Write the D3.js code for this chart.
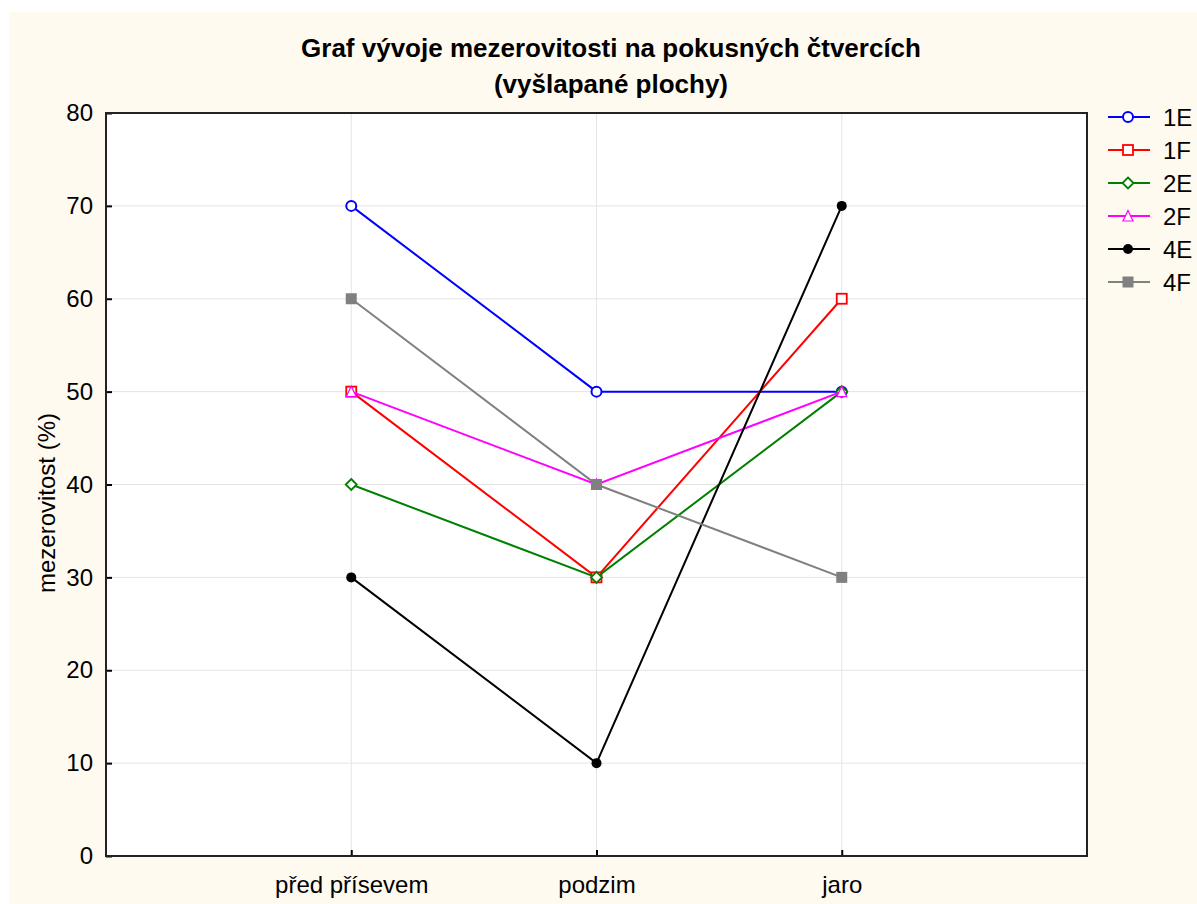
<!DOCTYPE html>
<html><head><meta charset="utf-8">
<script src="https://cdn.jsdelivr.net/npm/d3@7"></script>
<style>html,body{margin:0;padding:0;background:#fff;}svg{display:block;}</style>
</head><body>
<script>
const categories = ["před přísevem", "podzim", "jaro"];
const seriesNames = ["1E", "1F", "2E", "2F", "4E", "4F"];
const v1E = [70, 50, 50];
const v1F = [50, 30, 60];
const v2E = [40, 30, 50];
const v2F = [50, 40, 50];
const v4E = [30, 10, 70];
const v4F = [60, 40, 30];
const yTicks = [0, 10, 20, 30, 40, 50, 60, 70, 80];
const titleLines = ["Graf vývoje mezerovitosti na pokusných čtvercích", "(vyšlapané plochy)"];
const yLabel = "mezerovitost (%)";

const seriesValues = [v1E, v1F, v2E, v2F, v4E, v4F];
const colors = ["#0000ff", "#ff0000", "#008000", "#ff00ff", "#000000", "#808080"];
const shapes = ["circle", "square", "diamond", "triangle", "dot", "fsquare"];

const W = 1197, H = 904;
const L = 106, R = 1087, T = 113, B = 856;
const font = "'Liberation Sans', Arial, sans-serif";

const svg = d3.select("body").append("svg").attr("width", W).attr("height", H);
svg.append("rect").attr("x", 9).attr("y", 12).attr("width", W - 9).attr("height", H - 12).attr("fill", "#fffaf0");
svg.append("rect").attr("x", L).attr("y", T).attr("width", R - L).attr("height", B - T).attr("fill", "#fff");

const x = d3.scalePoint().domain(categories).range([L, R]).padding(1);
const y = d3.scaleLinear().domain([0, 80]).range([B, T]);

// grid
const g = svg.append("g");
g.selectAll(".gy").data(yTicks.filter(t => t > 0 && t < 80)).join("line")
  .attr("x1", L).attr("x2", R).attr("y1", d => y(d)).attr("y2", d => y(d))
  .attr("stroke", "#e4e4e4").attr("stroke-width", 1);
g.selectAll(".gx").data(categories).join("line")
  .attr("x1", d => x(d)).attr("x2", d => x(d)).attr("y1", T).attr("y2", B)
  .attr("stroke", "#e4e4e4").attr("stroke-width", 1);

// axes
const yAxis = d3.axisLeft(y).tickValues(yTicks).tickSize(-6).tickPadding(13).tickFormat(d3.format("d"));
const ya = svg.append("g").attr("transform", `translate(${L},0)`).call(yAxis);
ya.select(".domain").remove();
ya.selectAll("line").attr("stroke", "#000").attr("stroke-width", 2);
ya.selectAll("text").attr("font-family", font).attr("font-size", 24).attr("fill", "#000");

const xAxis = d3.axisBottom(x).tickSize(-6).tickPadding(20);
const xa = svg.append("g").attr("transform", `translate(0,${B})`).call(xAxis);
xa.select(".domain").remove();
xa.selectAll("line").attr("stroke", "#000").attr("stroke-width", 2);
xa.selectAll("text").attr("font-family", font).attr("font-size", 24).attr("fill", "#000");

svg.append("rect").attr("x", L).attr("y", T).attr("width", R - L).attr("height", B - T)
  .attr("fill", "none").attr("stroke", "#222").attr("stroke-width", 2);

function marker(sel, shape, color) {
  if (shape === "circle") sel.append("circle").attr("r", 5).attr("fill", "#fff").attr("stroke", color).attr("stroke-width", 2);
  else if (shape === "dot") sel.append("circle").attr("r", 5).attr("fill", color);
  else if (shape === "square") sel.append("rect").attr("x", -5).attr("y", -5).attr("width", 10).attr("height", 10).attr("fill", "#fff").attr("stroke", color).attr("stroke-width", 1.8);
  else if (shape === "fsquare") sel.append("rect").attr("x", -5.5).attr("y", -5.5).attr("width", 11).attr("height", 11).attr("fill", color);
  else if (shape === "diamond") sel.append("path").attr("d", "M0,-5.5L5.5,0L0,5.5L-5.5,0Z").attr("fill", "#fff").attr("stroke", color).attr("stroke-width", 1.8);
  else if (shape === "triangle") sel.append("path").attr("d", "M0,-5.5L5,5L-5,5Z").attr("fill", "#fff").attr("stroke", color).attr("stroke-width", 1.2);
}

const line = d3.line().x((d, i) => x(categories[i])).y(d => y(d));
seriesValues.forEach((vals, si) => {
  const sg = svg.append("g");
  sg.append("path").attr("d", line(vals)).attr("fill", "none").attr("stroke", colors[si]).attr("stroke-width", 2);
  vals.forEach((v, i) => {
    const m = sg.append("g").attr("transform", `translate(${x(categories[i])},${y(v)})`);
    marker(m, shapes[si], colors[si]);
  });
});

// title
svg.append("g").selectAll("text").data(titleLines).join("text")
  .attr("x", 611).attr("y", (d, i) => 57 + i * 36)
  .attr("text-anchor", "middle").attr("font-family", font).attr("font-weight", "bold")
  .attr("font-size", 26).attr("fill", "#000").text(d => d);

// y label
svg.append("text").attr("transform", "translate(55,503) rotate(-90)")
  .attr("text-anchor", "middle").attr("font-family", font).attr("font-size", 24).attr("fill", "#000").text(yLabel);

// legend
const lg = svg.append("g");
seriesNames.forEach((name, i) => {
  const ly = 117 + i * 33;
  const row = lg.append("g");
  row.append("line").attr("x1", 1108).attr("x2", 1150).attr("y1", ly).attr("y2", ly).attr("stroke", colors[i]).attr("stroke-width", 2);
  const m = row.append("g").attr("transform", `translate(1128,${ly})`);
  marker(m, shapes[i], colors[i]);
  row.append("text").attr("x", 1163).attr("y", ly + 9).attr("font-family", font).attr("font-size", 24).attr("fill", "#000").text(name);
});
</script>
</body></html>
